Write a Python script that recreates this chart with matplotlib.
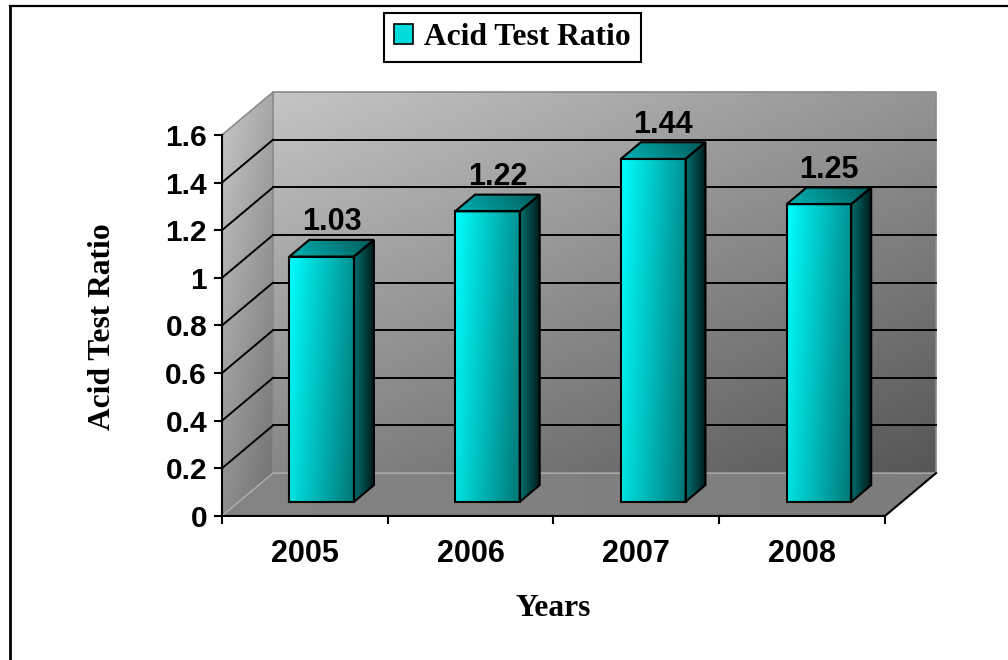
import matplotlib.pyplot as plt
import numpy as np
from matplotlib.patches import Polygon, Patch
from matplotlib.lines import Line2D

years = ['2005', '2006', '2007', '2008']
ratios = [1.03, 1.22, 1.44, 1.25]
y_ticks = [0, 0.2, 0.4, 0.6, 0.8, 1.0, 1.2, 1.4, 1.6]
y_tick_labels = ['0', '0.2', '0.4', '0.6', '0.8', '1', '1.2', '1.4', '1.6']

plt.rcParams['font.family'] = ['Liberation Sans', 'DejaVu Sans']
serif = ['Liberation Serif', 'DejaVu Serif']

fig = plt.figure(figsize=(10.08, 6.6), dpi=100)
ax = fig.add_axes([0, 0, 1, 1])
ax.set_xlim(-1.339, 4.742)
ax.set_ylim(-0.605, 2.167)
ax.axis('off')

# depth of the 3d box and where the bars sit inside it
DX, DY = 0.308, 0.18
front, back = 0.33, 0.72
bar_w = 0.39
ymax = y_ticks[-1]
n = len(years)


def shade(poly, c0, c1, ang=0.0, z=1, ec='none', lw=0):
    """Fill a polygon with a linear gradient from c0 to c1."""
    poly = np.asarray(poly, dtype=float)
    (x0, y0), (x1, y1) = poly.min(axis=0), poly.max(axis=0)
    gx, gy = np.meshgrid(np.linspace(0, 1, 80), np.linspace(0, 1, 80))
    a = np.deg2rad(ang)
    t = np.cos(a) * gx + np.sin(a) * gy
    t = (t - t.min()) / (t.max() - t.min())
    c0, c1 = np.array(c0) / 255, np.array(c1) / 255
    img = c0 * (1 - t[..., None]) + c1 * t[..., None]
    im = ax.imshow(img, extent=(x0, x1, y0, y1), origin='lower',
                   aspect='auto', interpolation='bilinear', zorder=z)
    p = Polygon(poly, closed=True, facecolor='none', edgecolor=ec,
                linewidth=lw, zorder=z + 0.1, joinstyle='miter')
    ax.add_patch(p)
    im.set_clip_path(p)


# walls and floor
shade([(DX, DY), (n + DX, DY), (n + DX, ymax + DY), (DX, ymax + DY)],
      (196, 196, 196), (86, 86, 86), ang=-52, z=1)
shade([(0, 0), (DX, DY), (DX, ymax + DY), (0, ymax)],
      (200, 200, 200), (110, 110, 110), ang=-60, z=1)
shade([(0, 0), (n, 0), (n + DX, DY), (DX, DY)],
      (132, 132, 132), (124, 124, 124), ang=0, z=1)

gray = '#8a8a8a'
ax.plot([DX, DX, n + DX, n + DX], [DY, ymax + DY, ymax + DY, DY],
        color=gray, lw=1.2, zorder=2)
ax.plot([0, DX], [ymax, ymax + DY], color=gray, lw=1.2, zorder=2)
ax.plot([0, DX, n + DX], [0, DY, DY], color='#b0b0b0', lw=1.0, zorder=2)

# gridlines on the back and side walls
for t in y_ticks[1:-1]:
    ax.plot([DX, n + DX], [t + DY, t + DY], color='black', lw=1.4, zorder=2)
    ax.plot([0, DX], [t, t + DY], color='black', lw=1.4, zorder=2)

# front axes
ax.plot([0, 0], [0, ymax], color='black', lw=1.5, zorder=3)
ax.plot([0, n, n + DX], [0, 0, DY], color='black', lw=1.5, zorder=3)
for t, lab in zip(y_ticks, y_tick_labels):
    ax.plot([-0.042, 0], [t, t], color='black', lw=1.5, zorder=3)
    ax.text(-0.09, t, lab, ha='right', va='center_baseline',
            fontsize=21.5, fontweight='bold')
for i in range(n + 1):
    ax.plot([i, i], [0, -0.03], color='black', lw=1.5, zorder=3)
for i, yr in enumerate(years):
    ax.text(i + 0.5, -0.143, yr, ha='center', va='center_baseline',
            fontsize=22, fontweight='bold')

# bars
ox, oy = (back - front) * DX, (back - front) * DY
for i, v in enumerate(ratios):
    xl = i + 0.5 - bar_w / 2 + front * DX
    xr = xl + bar_w
    yb = front * DY
    yt = yb + v
    shade([(xl, yb), (xr, yb), (xr, yt), (xl, yt)],
          (0, 255, 255), (0, 118, 118), ang=-15, z=5, ec='black', lw=1.5)
    shade([(xr, yb), (xr + ox, yb + oy), (xr + ox, yt + oy), (xr, yt)],
          (0, 110, 110), (0, 28, 28), ang=0, z=5, ec='black', lw=1.5)
    shade([(xl, yt), (xr, yt), (xr + ox, yt + oy), (xl + ox, yt + oy)],
          (0, 180, 180), (0, 90, 90), ang=10, z=5, ec='black', lw=1.5)
    ax.text(xl + bar_w / 2 + ox / 2, yt + oy + 0.04, f'{v:.2f}',
            ha='center', va='baseline', fontsize=22, fontweight='bold',
            zorder=6)

ax.set_xlim(-1.339, 4.742)
ax.set_ylim(-0.605, 2.167)

# axis titles
fig.text(553 / 1008, 1 - 608 / 660, 'Years', ha='center', va='center',
         fontsize=22.7, fontweight='bold', family=serif)
fig.text(102 / 1008, 1 - 327 / 660, 'Acid Test Ratio', ha='center',
         va='center', rotation=90, fontsize=22.7, fontweight='bold',
         family=serif)

leg = ax.legend(handles=[Patch(facecolor='#00dcdc', edgecolor='black',
                               linewidth=1.2)],
                labels=['Acid Test Ratio'], loc='upper center',
                bbox_to_anchor=(512.5 / 1008, 1 - 13 / 660),
                prop=dict(family=serif, weight='bold', size=22.7),
                fancybox=False, edgecolor='black', framealpha=1,
                handlelength=0.58, handleheight=0.58, handletextpad=0.35,
                borderpad=0.32, borderaxespad=0)
leg.get_frame().set_linewidth(1.5)

# chart area border (top and left edges)
fig.add_artist(Line2D([10 / 1008, 10 / 1008], [0, 1 - 6 / 660],
                      transform=fig.transFigure, color='black', lw=2))
fig.add_artist(Line2D([10 / 1008, 1], [1 - 6 / 660, 1 - 6 / 660],
                      transform=fig.transFigure, color='black', lw=1.6))

fig.savefig('out.png', dpi=100)
